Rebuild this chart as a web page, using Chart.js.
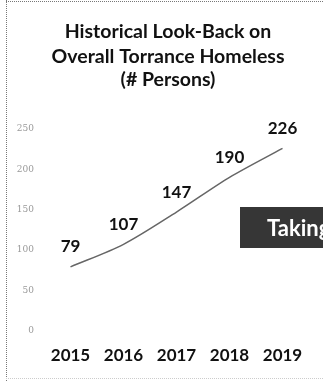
<!DOCTYPE html>
<html>
<head>
<meta charset="utf-8">
<script src="https://cdn.jsdelivr.net/npm/chart.js@4/dist/chart.umd.min.js"></script>
<style>
html,body{margin:0;padding:0;background:#fff;}
#wrap{position:relative;width:323px;height:381px;}
</style>
</head>
<body>
<div id="wrap"><canvas id="c" width="323" height="381"></canvas></div>
<script>
const categories = ["2015", "2016", "2017", "2018", "2019"];
const persons = [79, 107, 147, 190, 226];
const yTicks = [0, 50, 100, 150, 200, 250];
const titleLines = ["Historical Look-Back on", "Overall Torrance Homeless", "(# Persons)"];
const overlayText = "Taking";

const decor = {
  id: 'decor',
  beforeDraw(chart) {
    const ctx = chart.ctx;
    ctx.save();
    ctx.fillStyle = '#fff';
    ctx.fillRect(0, 0, chart.width, chart.height);
    ctx.strokeStyle = '#777';
    ctx.lineWidth = 1;
    ctx.setLineDash([1, 1]);
    ctx.beginPath();
    ctx.moveTo(6.5, 0); ctx.lineTo(6.5, 381);
    ctx.moveTo(6, 1.5); ctx.lineTo(323, 1.5);
    ctx.stroke();
    ctx.strokeStyle = '#ccc';
    ctx.beginPath();
    ctx.moveTo(6, 378.5); ctx.lineTo(323, 378.5);
    ctx.stroke();
    ctx.setLineDash([]);
    // title
    ctx.fillStyle = '#111';
    ctx.font = 'bold 19.5px Lato, "Open Sans", sans-serif';
    ctx.textAlign = 'center';
    ctx.textBaseline = 'middle';
    const ys = [32, 57, 80];
    titleLines.forEach((t, i) => ctx.fillText(t, 168, ys[i]));
    ctx.restore();
  },
  afterDatasetsDraw(chart) {
    const ctx = chart.ctx;
    const meta = chart.getDatasetMeta(0);
    ctx.save();
    ctx.font = 'bold 17px Lato, "Open Sans", sans-serif';
    ctx.fillStyle = '#111';
    ctx.textAlign = 'center';
    ctx.textBaseline = 'middle';
    meta.data.forEach((pt, i) => {
      ctx.fillText(String(persons[i]), pt.x, pt.y - 20);
    });
    // overlay box
    ctx.fillStyle = '#363636';
    ctx.fillRect(240, 207, 90, 41);
    ctx.fillStyle = '#fff';
    ctx.font = 'bold 22px Lato, "Open Sans", sans-serif';
    ctx.textAlign = 'left';
    ctx.fillText(overlayText, 267, 229);
    ctx.restore();
  }
};

new Chart(document.getElementById('c'), {
  type: 'line',
  data: {
    labels: categories,
    datasets: [{
      data: persons,
      borderColor: '#666',
      borderWidth: 1.5,
      pointRadius: 0,
      tension: 0.3,
      fill: false
    }]
  },
  options: {
    responsive: false,
    animation: false,
    devicePixelRatio: 1,
    layout: { padding: { left: 8, right: 14, top: 129, bottom: 0 } },
    plugins: {
      legend: { display: false },
      tooltip: { enabled: false },
      title: { display: false }
    },
    scales: {
      x: {
        offset: true,
        grid: { display: false, drawTicks: false },
        border: { display: false },
        ticks: {
          color: '#111',
          padding: 15,
          font: { family: 'Lato, "Open Sans", sans-serif', size: 17, weight: 'bold' }
        }
      },
      y: {
        min: 0,
        max: 250,
        afterBuildTicks(axis) { axis.ticks = yTicks.map(v => ({ value: v })); },
        afterFit(axis) { axis.width = 36; },
        grid: { display: false, drawTicks: false },
        border: { display: false },
        ticks: {
          color: '#999',
          padding: 10,
          font: { family: '"DejaVu Serif", serif', size: 9 }
        }
      }
    }
  },
  plugins: [decor]
});
</script>
</body>
</html>
